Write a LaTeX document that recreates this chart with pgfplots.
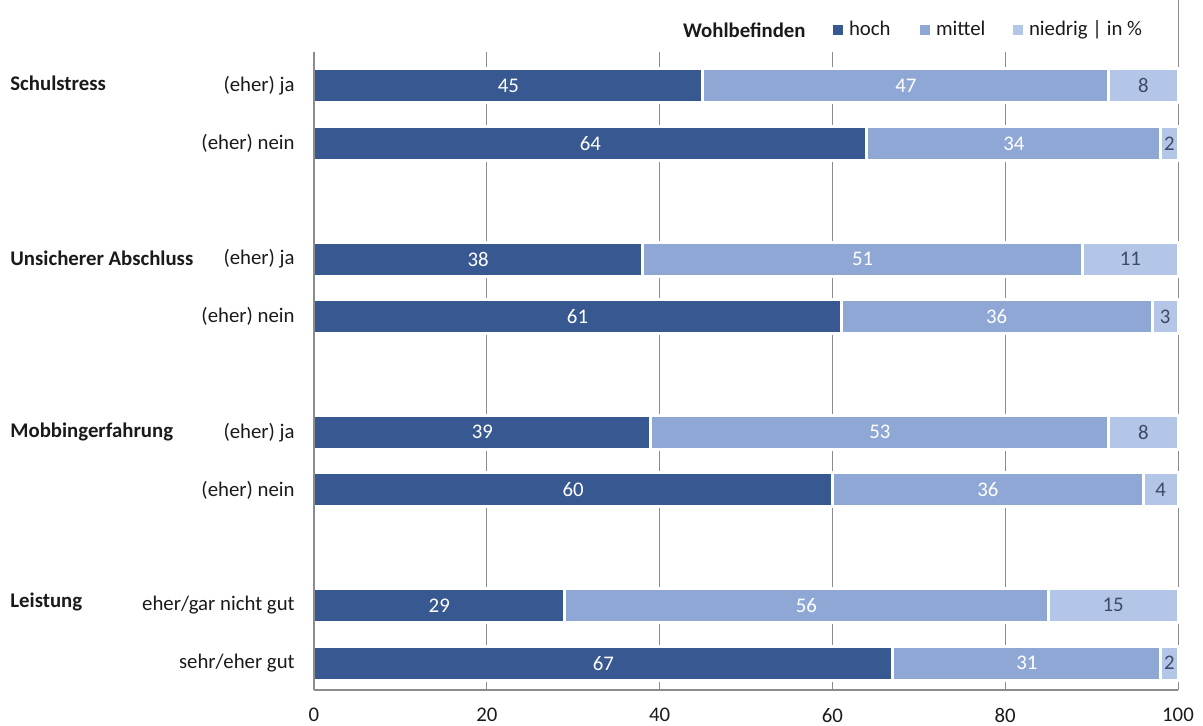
\documentclass[border=0pt]{standalone}
\usepackage{pgfplots}
\pgfplotsset{compat=1.18}
\usepackage{pgfplotstable}
\usepackage{fontspec}
\setmainfont{Carlito}
\definecolor{hochc}{HTML}{385892}
\definecolor{mittelc}{HTML}{8FA7D5}
\definecolor{niedrigc}{HTML}{B4C6E7}
\definecolor{gridc}{HTML}{8C8C8C}
\definecolor{txtc}{HTML}{1A1A1A}
\definecolor{lowtxt}{HTML}{3D4A66}

\pgfplotstableread{
y hoch mittel niedrig
0 45 47 8
-1 64 34 2
-3 38 51 11
-4 61 36 3
-6 39 53 8
-7 60 36 4
-9 29 56 15
-10 67 31 2
}\data

\pgfplotstableread{
y xh lh xm lm xn ln
0 22.5 45 68.5 47 96 8
-1 32 64 81 34 99 2
-3 19 38 63.5 51 94.5 11
-4 30.5 61 79 36 98.5 3
-6 19.5 39 65.5 53 96 8
-7 30 60 78 36 98 4
-9 14.5 29 57 56 92.5 15
-10 33.5 67 82.5 31 99 2
}\labels

\pgfplotsset{base/.style={
  at={(0,0)}, anchor=south west, scale only axis,
  width=432pt, height=319pt,
  xmin=0, xmax=100, ymin=-10.467, ymax=0.588,
  clip=false,
}}

\begin{document}
\fontsize{10.4pt}{12pt}\selectfont
\begin{tikzpicture}[font=\fontsize{10.4pt}{12pt}\selectfont, text=txtc]
\useasboundingbox (-157pt,-17.5pt) rectangle (444.5pt,345pt);
\begin{axis}[base,
  xbar stacked, bar width=17pt,
  axis x line*=bottom, axis y line*=left,
  axis line style={draw=none},
  xtick={0,20,40,60,80,100},
  xmajorgrids, grid style={gridc, line width=0.5pt},
  ytick={0,-1,-3,-4,-6,-7,-9,-10},
  yticklabels={(eher) ja,(eher) nein,(eher) ja,(eher) nein,(eher) ja,(eher) nein,eher/gar nicht gut,sehr/eher gut},
  tick style={draw=none},
  /pgf/number format/assume math mode=true,
  xticklabel style={text=txtc, yshift=-5.5pt},
  yticklabel style={text=txtc, xshift=-6pt},
  legend columns=3,
  legend style={at={(axis cs:60.07,0.588)}, anchor=west, yshift=11pt,
    draw=none, fill=none, inner sep=0pt, outer sep=0pt,
    nodes={inner sep=0pt, text=txtc}},
  /tikz/every even column/.style={column sep=3pt},
]
\addplot[fill=hochc, draw=white, line width=1.5pt,
  legend image code/.code={\fill[hochc] (0pt,-1.75pt) rectangle (3.5pt,1.75pt); \path (6.5pt,0pt);}]
  table[x=hoch, y=y] {\data};
\addlegendentry{\makebox[32.5pt][l]{hoch}}
\addplot[fill=mittelc, draw=white, line width=1.5pt,
  legend image code/.code={\fill[mittelc] (0pt,-1.75pt) rectangle (3.5pt,1.75pt); \path (6.5pt,0pt);}]
  table[x=mittel, y=y] {\data};
\addlegendentry{\makebox[35.5pt][l]{mittel}}
\addplot[fill=niedrigc, draw=white, line width=1.5pt,
  legend image code/.code={\fill[niedrigc] (0pt,-1.75pt) rectangle (3.5pt,1.75pt); \path (6.5pt,0pt);}]
  table[x=niedrig, y=y] {\data};
\addlegendentry{niedrig | in \%}
\node[anchor=east, inner sep=0pt, font=\fontsize{10.4pt}{12pt}\selectfont\bfseries] at (axis description cs:0.5694,1) [yshift=11pt] {Wohlbefinden};
\node[anchor=west, inner sep=0pt, font=\fontsize{10.4pt}{12pt}\selectfont\bfseries] at (axis cs:0,0) [xshift=-152pt, yshift=1.5pt] {Schulstress};
\node[anchor=west, inner sep=0pt, font=\fontsize{10.4pt}{12pt}\selectfont\bfseries] at (axis cs:0,-3) [xshift=-152pt, yshift=0.5pt] {Unsicherer Abschluss};
\node[anchor=west, inner sep=0pt, font=\fontsize{10.4pt}{12pt}\selectfont\bfseries] at (axis cs:0,-6) [xshift=-152pt] {Mobbingerfahrung};
\node[anchor=west, inner sep=0pt, font=\fontsize{10.4pt}{12pt}\selectfont\bfseries] at (axis cs:0,-9) [xshift=-152pt, yshift=1.5pt] {Leistung};
\draw[gridc, line width=0.5pt] (axis cs:100,0.588) -- ++(0,26pt);
\end{axis}
\begin{axis}[base,
  axis x line*=bottom, axis y line*=left,
  axis line style={gridc, line width=1pt, -},
  xtick=\empty, ytick=\empty,
  nodes near coords, point meta=explicit symbolic,
  every node near coord/.append style={anchor=center, inner sep=0pt},
]
\addplot[only marks, mark=none, nodes near coords, every node near coord/.append style={text=white}]
  table[x=xh, y=y, meta=lh] {\labels};
\addplot[only marks, mark=none, nodes near coords, every node near coord/.append style={text=white}]
  table[x=xm, y=y, meta=lm] {\labels};
\addplot[only marks, mark=none, nodes near coords, every node near coord/.append style={text=lowtxt}]
  table[x=xn, y=y, meta=ln] {\labels};
\end{axis}
\end{tikzpicture}
\end{document}
